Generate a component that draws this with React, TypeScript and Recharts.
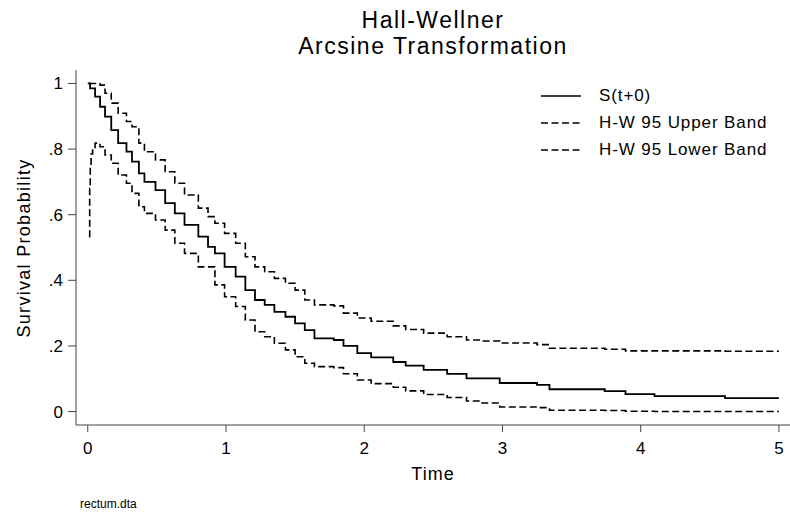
import { LineChart, Line, XAxis, YAxis } from "recharts";

// Kaplan-Meier estimate and Hall-Wellner band
const survTimes = [0, 0.017, 0.053, 0.089, 0.125, 0.17, 0.22, 0.28, 0.32, 0.37, 0.41, 0.49, 0.56, 0.63, 0.7, 0.8, 0.87, 0.92, 0.99, 1.07, 1.14, 1.21, 1.28, 1.35, 1.43, 1.5, 1.57, 1.64, 1.78, 1.85, 1.95, 2.05, 2.21, 2.3, 2.43, 2.6, 2.74, 2.98, 3.25, 3.34, 3.74, 3.89, 4.1, 4.61, 5.0];
const survValues = [1.0, 0.985, 0.96, 0.929, 0.899, 0.858, 0.818, 0.792, 0.762, 0.726, 0.7, 0.675, 0.635, 0.604, 0.569, 0.533, 0.502, 0.482, 0.441, 0.411, 0.37, 0.34, 0.325, 0.304, 0.289, 0.269, 0.248, 0.223, 0.218, 0.2, 0.178, 0.165, 0.151, 0.14, 0.127, 0.115, 0.101, 0.087, 0.081, 0.068, 0.062, 0.053, 0.047, 0.041, 0.041];

const upperTimes = [0.01, 0.089, 0.125, 0.17, 0.22, 0.28, 0.32, 0.37, 0.41, 0.49, 0.56, 0.63, 0.7, 0.8, 0.87, 0.92, 0.99, 1.07, 1.14, 1.21, 1.28, 1.35, 1.43, 1.5, 1.57, 1.64, 1.78, 1.85, 1.95, 2.05, 2.21, 2.3, 2.43, 2.6, 2.74, 2.84, 2.98, 3.25, 3.34, 3.74, 3.89, 4.61, 5.0];
const upperValues = [1.0, 0.995, 0.97, 0.94, 0.909, 0.884, 0.868, 0.818, 0.792, 0.767, 0.731, 0.696, 0.66, 0.62, 0.594, 0.574, 0.543, 0.513, 0.472, 0.441, 0.426, 0.406, 0.391, 0.37, 0.34, 0.325, 0.322, 0.3, 0.285, 0.275, 0.261, 0.25, 0.239, 0.228, 0.218, 0.215, 0.209, 0.204, 0.193, 0.19, 0.185, 0.184, 0.184];

const lowerTimes = [0.01, 0.014, 0.018, 0.024, 0.035, 0.053, 0.089, 0.125, 0.17, 0.22, 0.28, 0.32, 0.37, 0.41, 0.49, 0.56, 0.63, 0.7, 0.8, 0.92, 0.99, 1.07, 1.14, 1.21, 1.28, 1.35, 1.43, 1.5, 1.57, 1.64, 1.78, 1.85, 1.95, 2.05, 2.21, 2.3, 2.43, 2.6, 2.74, 2.84, 2.98, 3.25, 3.34, 3.74, 3.89, 4.1, 5.0];
const lowerValues = [0.533, 0.68, 0.75, 0.785, 0.805, 0.818, 0.807, 0.782, 0.757, 0.721, 0.696, 0.665, 0.624, 0.604, 0.584, 0.553, 0.513, 0.482, 0.441, 0.386, 0.35, 0.32, 0.279, 0.243, 0.228, 0.208, 0.188, 0.167, 0.147, 0.137, 0.134, 0.115, 0.096, 0.085, 0.074, 0.063, 0.052, 0.043, 0.032, 0.026, 0.014, 0.012, 0.004, 0.003, 0.001, 0.0, 0.0];

const seriesNames = ["S(t+0)", "H-W 95 Upper Band", "H-W 95 Lower Band"];
const xTicks = [0, 1, 2, 3, 4, 5];
const yTicks = [0, 0.2, 0.4, 0.6, 0.8, 1];
const yTickLabels = ["0", ".2", ".4", ".6", ".8", "1"];

const toPoints = (ts: number[], vs: number[]) => ts.map((t, i) => ({ t, v: vs[i] }));

const survData = toPoints(survTimes, survValues);
const upperData = toPoints(upperTimes, upperValues);
const lowerData = toPoints(lowerTimes, lowerValues);

const FONT = "'Liberation Sans', Arial, Helvetica, sans-serif";
const DASH = "7 3.5";

function ChartLegend() {
  return (
    <div
      style={{
        position: "absolute",
        left: 541,
        top: 83,
        fontFamily: FONT,
        fontSize: 17,
        letterSpacing: 0.9,
        color: "#000",
      }}
    >
      {seriesNames.map((name, i) => (
        <div key={name} style={{ display: "flex", alignItems: "center", height: 26.7 }}>
          <svg width={58} height={10}>
            <line
              x1={0}
              y1={5}
              x2={40}
              y2={5}
              stroke="#000"
              strokeWidth={1.6}
              strokeDasharray={i === 0 ? undefined : DASH}
            />
          </svg>
          <span>{name}</span>
        </div>
      ))}
    </div>
  );
}

export default function App() {
  return (
    <div style={{ position: "absolute", left: 0, top: 0, width: 790, height: 512, background: "#fff" }}>
      <div
        style={{
          position: "absolute",
          left: 0,
          width: 866,
          top: 8,
          textAlign: "center",
          fontFamily: FONT,
          fontSize: 23,
          letterSpacing: 1.5,
          lineHeight: "25.5px",
          color: "#000",
        }}
      >
        Hall-Wellner
        <br />
        Arcsine Transformation
      </div>
      <LineChart
        width={790}
        height={512}
        margin={{ top: 70, right: 0, bottom: 0, left: 0 }}
        style={{ fontFamily: FONT }}
      >
        <XAxis
          type="number"
          dataKey="t"
          domain={[-0.085, 5.08]}
          ticks={xTicks}
          allowDataOverflow
          height={87}
          tickSize={7}
          tickMargin={10}
          stroke="#444"
          tick={{ fill: "#000", fontSize: 17 }}
          label={{
            content: () => (
              <text x={433} y={480} textAnchor="middle" fontSize={18} letterSpacing={1} fill="#000">
                Time
              </text>
            ),
          }}
        />
        <YAxis
          type="number"
          domain={[-0.041, 1.041]}
          ticks={yTicks}
          allowDataOverflow
          width={76}
          tickSize={8}
          tickMargin={5}
          stroke="#444"
          tick={{ fill: "#000", fontSize: 17 }}
          tickFormatter={(v: number) => yTickLabels[yTicks.indexOf(v)] ?? String(v)}
          label={{
            content: () => (
              <text
                x={30}
                y={248}
                transform="rotate(-90 30 248)"
                textAnchor="middle"
                fontSize={18}
                letterSpacing={1.3}
                fill="#000"
              >
                Survival Probability
              </text>
            ),
          }}
        />
        <Line
          data={survData}
          dataKey="v"
          name={seriesNames[0]}
          type="stepAfter"
          stroke="#000"
          strokeWidth={1.8}
          dot={false}
          isAnimationActive={false}
        />
        <Line
          data={upperData}
          dataKey="v"
          name={seriesNames[1]}
          type="stepAfter"
          stroke="#000"
          strokeWidth={1.6}
          strokeDasharray={DASH}
          dot={false}
          isAnimationActive={false}
        />
        <Line
          data={lowerData}
          dataKey="v"
          name={seriesNames[2]}
          type="stepAfter"
          stroke="#000"
          strokeWidth={1.6}
          strokeDasharray={DASH}
          dot={false}
          isAnimationActive={false}
        />
      </LineChart>
      <ChartLegend />
      <div
        style={{
          position: "absolute",
          left: 80,
          top: 497,
          fontFamily: FONT,
          fontSize: 12,
          color: "#000",
        }}
      >
        rectum.dta
      </div>
    </div>
  );
}
